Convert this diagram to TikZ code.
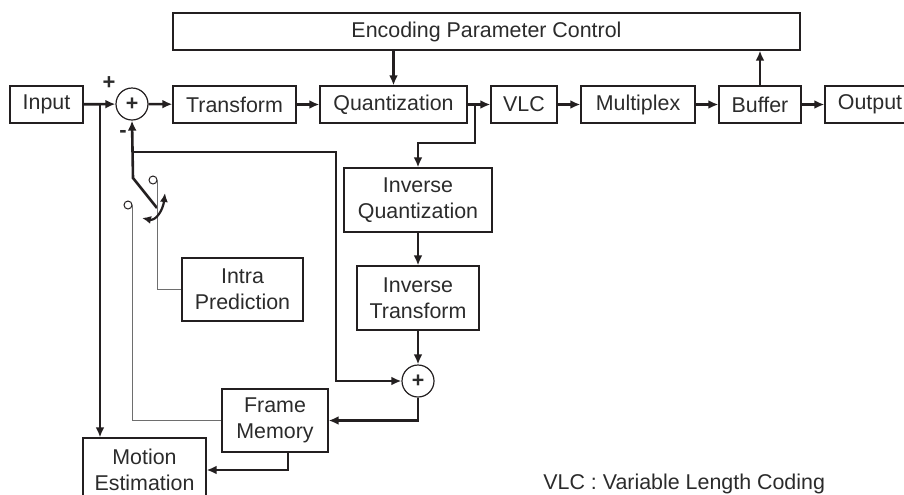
\documentclass[tikz,border=0pt]{standalone}
\usepackage{fontspec}
\setmainfont{Liberation Sans}
\usetikzlibrary{arrows.meta, calc}
\definecolor{cline}{HTML}{231F20}
\definecolor{ctext}{HTML}{2B2B2B}
\definecolor{cthin}{HTML}{6E6E6E}

\begin{document}
\begin{tikzpicture}[x=0.5pt, y=-0.5pt,
    blk/.style={draw=cline, line width=0.6pt, inner sep=0pt, align=center, minimum height=18.5pt, font=\fontsize{10.7}{13}\selectfont\color{ctext}},
    summ/.style={circle, draw=cline, line width=0.6pt, minimum size=16pt, inner sep=0pt, font=\fontsize{10.7}{13}\selectfont\bfseries\color{ctext}},
    flow/.style={draw=cline, line width=1.3pt, -{Latex[length=5pt,width=4.4pt]}},
    thinline/.style={draw=cthin, line width=0.55pt},
    contact/.style={circle, draw=cline, line width=0.5pt, minimum size=4pt, inner sep=0pt},
    lbl/.style={inner sep=0pt, font=\fontsize{10.7}{13}\selectfont\color{ctext}}]
    \useasboundingbox (0,0) rectangle (904,494);
    % top row
    \node (enc) [blk, minimum width=313.5pt] at (486.5,31.5) {Encoding Parameter Control};
    \node (inp) [blk, minimum width=36.5pt] at (46.5,104.5) {Input};
    \node (s1) [summ] at (132,104) {+};
    \node (tr) [blk, minimum width=61.5pt] at (234.5,104.5) {Transform};
    \node (qz) [blk, minimum width=73.5pt] at (393.5,104.5) {Quantization};
    \node (vlc) [blk, minimum width=33pt] at (524,104.5) {VLC};
    \node (mux) [blk, minimum width=57pt] at (638,104.5) {Multiplex};
    \node (buf) [blk, minimum width=41pt] at (760,104.5) {Buffer};
    \node (out) [blk, minimum width=45pt] at (870,104.5) {Output};
    % reconstruction loop
    \node (iq) [blk, minimum width=74pt, minimum height=32pt] at (418,200) {Inverse\\Quantization};
    \node (it) [blk, minimum width=61pt, minimum height=32pt] at (418,298) {Inverse\\Transform};
    \node (s2) [summ] at (418,381) {+};
    \node (ip) [blk, minimum width=60.5pt, minimum height=31.5pt] at (242.5,289.5) {Intra\\Prediction};
    \node (fm) [blk, minimum width=53pt, minimum height=31.5pt] at (275,420.5) {Frame\\Memory};
    \node (me) [blk, minimum width=61.5pt, minimum height=32pt] at (144.5,470) {Motion\\Estimation};
    % switch contacts and signs
    \node (c1) [contact] at (153,180) {};
    \node (c2) [contact] at (128,205) {};
    \node (plus) [lbl, font=\fontsize{11}{13}\selectfont\bfseries\color{ctext}] at (109,83) {+};
    \node (minus) [lbl, font=\fontsize{11}{13}\selectfont\bfseries\color{ctext}] at (123,134) {-};
    \node (note) [lbl, anchor=west] at (543,484) {VLC : Variable Length Coding};
    % connectors
    \draw[flow] (inp) -- (s1);
    \draw[flow] (s1) -- (tr);
    \draw[flow] (tr) -- (qz);
    \draw[flow] (qz) -- (vlc);
    \draw[flow] (vlc) -- (mux);
    \draw[flow] (mux) -- (buf);
    \draw[flow] (buf) -- (out);
    \draw[flow] (enc.south -| qz.north) -- (qz.north);
    \draw[flow] (buf.north) -- (buf.north |- enc.south);
    \coordinate (qb) at (475,104.5);
    \draw[flow] (qb) -- ++(0,38.5) -| (iq.north);
    \draw[flow] (iq) -- (it);
    \draw[flow] (it) -- (s2);
    \coordinate (fb) at (133,152);
    \draw[flow] (fb) -- (336,152) |- (s2.west);
    \coordinate (pv) at (133,178);
    \coordinate (bt) at (157,208);
    \draw[flow] (bt) -- (pv) -- (s1.south);
    \coordinate (ib) at (100,104.5);
    \draw[flow] (ib) -- (me.north -| ib);
    \draw[thinline] (c1.east) |- (ip.west);
    \draw[thinline] (c2.east) |- (fm.west);
    \draw[flow] (s2.south) |- (fm.east);
    \draw[flow] ([xshift=6.5pt]fm.south) |- (me.east);
    \draw[draw=cline, line width=1.1pt, {Latex[length=4.5pt,width=4pt]}-{Latex[length=4.5pt,width=4pt]}] (142,218) .. controls (156,221) and (163,210) .. (165,193);
\end{tikzpicture}
\end{document}
